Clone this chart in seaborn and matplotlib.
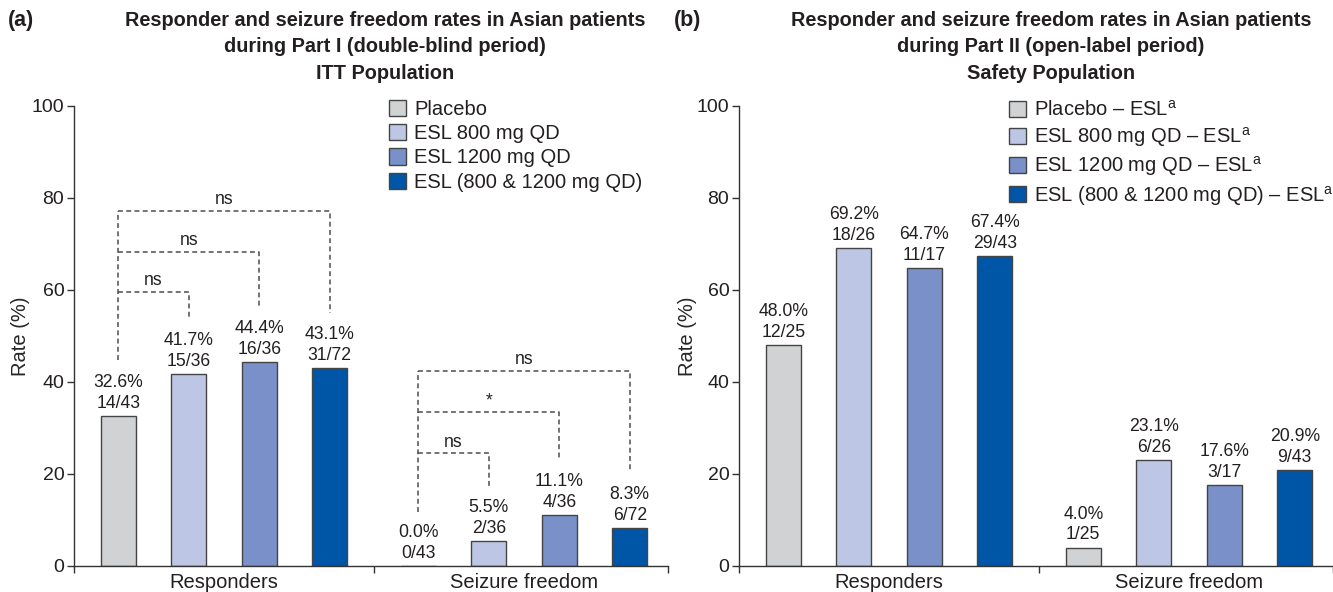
import matplotlib
matplotlib.use("Agg")
import matplotlib.pyplot as plt
from matplotlib.patches import Patch
import numpy as np
import pandas as pd
import seaborn as sns

# categories and treatment groups
categories = ["Responders", "Seizure freedom"]
groups_a = ["Placebo", "ESL 800 mg QD", "ESL 1200 mg QD", "ESL (800 & 1200 mg QD)"]
groups_b = ["Placebo \u2013 ESL$^{\\mathrm{a}}$", "ESL 800 mg QD \u2013 ESL$^{\\mathrm{a}}$",
            "ESL 1200 mg QD \u2013 ESL$^{\\mathrm{a}}$", "ESL (800 & 1200 mg QD) \u2013 ESL$^{\\mathrm{a}}$"]
colors = ["#d0d2d3", "#bdc6e5", "#7990c8", "#0056a6"]

# (a) Part I, ITT population
resp_a = [32.6, 41.7, 44.4, 43.1]
resp_a_n = ["14/43", "15/36", "16/36", "31/72"]
sf_a = [0.0, 5.5, 11.1, 8.3]
sf_a_n = ["0/43", "2/36", "4/36", "6/72"]

# (b) Part II, safety population
resp_b = [48.0, 69.2, 64.7, 67.4]
resp_b_n = ["12/25", "18/26", "11/17", "29/43"]
sf_b = [4.0, 23.1, 17.6, 20.9]
sf_b_n = ["1/25", "6/26", "3/17", "9/43"]

# significance brackets in (a): category, compared group, bracket level, end heights, label
brk_cat = [0, 0, 0, 1, 1, 1]
brk_grp = [1, 2, 3, 1, 2, 3]
brk_level = [59.6, 68.3, 77.2, 24.5, 33.5, 42.4]
brk_end = [53.6, 56.0, 55.0, 17.2, 23.0, 20.4]
brk_label = ["ns", "ns", "ns", "ns", "*", "ns"]
brk_start = [44.8, 11.7]  # bottom of the placebo leg per category

titles = ["Responder and seizure freedom rates in Asian patients\nduring Part I (double-blind period)\nITT Population",
          "Responder and seizure freedom rates in Asian patients\nduring Part II (open-label period)\nSafety Population"]

sns.set_style("ticks")
plt.rcParams['font.family'] = ['Liberation Sans', 'DejaVu Sans']
plt.rcParams['mathtext.fontset'] = 'custom'
plt.rcParams['mathtext.rm'] = 'Liberation Sans'
plt.rcParams['mathtext.it'] = 'Liberation Sans:italic'
plt.rcParams['text.color'] = '#231f20'
plt.rcParams['axes.edgecolor'] = '#333333'
plt.rcParams['xtick.color'] = '#333333'
plt.rcParams['ytick.color'] = '#333333'
plt.rcParams['xtick.labelcolor'] = '#231f20'
plt.rcParams['ytick.labelcolor'] = '#231f20'

W, H = 1333, 592
fig = plt.figure(figsize=(W / 100, H / 100), dpi=100)
ax_a = fig.add_axes([74 / W, 1 - 566 / H, 594 / W, 460 / H])
ax_b = fig.add_axes([739 / W, 1 - 566 / H, 594 / W, 460 / H])

panels = [
    (ax_a, groups_a, resp_a, resp_a_n, sf_a, sf_a_n),
    (ax_b, groups_b, resp_b, resp_b_n, sf_b, sf_b_n),
]

for ax, groups, resp, resp_n, sf, sf_n in panels:
    df = pd.DataFrame({
        "category": [categories[0]] * 4 + [categories[1]] * 4,
        "group": groups + groups,
        "rate": resp + sf,
        "n": resp_n + sf_n,
    })
    sns.barplot(data=df, x="category", y="rate", hue="group", order=categories,
                hue_order=groups, palette=colors, saturation=1, width=0.94, gap=0.5,
                edgecolor="#444444", linewidth=1.0, errorbar=None, legend=False, ax=ax)
    # value labels
    for h, cont in enumerate(ax.containers):
        for c, bar in enumerate(cont):
            row = df[(df.group == groups[h]) & (df.category == categories[c])].iloc[0]
            ax.annotate(f"{row.rate:.1f}%\n{row.n}",
                        xy=(bar.get_x() + bar.get_width() / 2, bar.get_height()),
                        xytext=(0, 3), textcoords="offset points", ha="center", va="bottom",
                        fontsize=12.7, linespacing=1.3)
    ax.set_xlim(-0.5, 1.48)
    ax.set_ylim(0, 100)
    ax.set_yticks(np.arange(0, 101, 20))
    ax.set_xlabel("")
    ax.set_ylabel("Rate (%)", fontsize=14.5)
    ax.set_xticks([-0.5, 0.5, 1.48], minor=True)
    ax.tick_params(axis="x", which="major", length=0, pad=5, labelsize=14.5)
    ax.tick_params(axis="x", which="minor", length=5, width=1)
    ax.tick_params(axis="y", length=5, width=1, pad=2, labelsize=14)
    sns.despine(ax=ax)
    for s in ["left", "bottom"]:
        ax.spines[s].set_linewidth(1)
    handles = [Patch(facecolor=col, edgecolor="#444444", linewidth=1, label=g)
               for col, g in zip(colors, groups)]
    ax.legend(handles=handles, frameon=False, fontsize=14.5, loc="upper left",
              borderpad=0, borderaxespad=0, handlelength=0.85, handleheight=0.85,
              handletextpad=0.4, labelspacing=0.26)

ax_a.get_legend().set_bbox_to_anchor((389 / W, 1 - 100 / H), transform=fig.transFigure)
ax_b.get_legend().set_bbox_to_anchor((1009 / W, 1 - 100 / H), transform=fig.transFigure)
ax_a.yaxis.set_label_coords(-0.074, 0.5)
ax_b.yaxis.set_label_coords(-0.071, 0.5)

# significance brackets in (a)
dash = dict(color="#4d4d4d", linewidth=1.1, linestyle=(0, (3.2, 2.2)))
for c in range(2):
    left = ax_a.containers[0][c]
    x0 = left.get_x() + left.get_width() / 2
    top = max(lv for lv, cc in zip(brk_level, brk_cat) if cc == c)
    ax_a.plot([x0, x0], [brk_start[c], top], **dash)
for c, g, lv, end, lab in zip(brk_cat, brk_grp, brk_level, brk_end, brk_label):
    x0 = ax_a.containers[0][c].get_x() + ax_a.containers[0][c].get_width() / 2
    bar = ax_a.containers[g][c]
    x1 = bar.get_x() + bar.get_width() / 2
    ax_a.plot([x0, x1, x1], [lv, lv, end], **dash)
    ax_a.annotate(lab, xy=((x0 + x1) / 2, lv), xytext=(0, 2), textcoords="offset points",
                  ha="center", va="bottom", fontsize=12.7)

# titles
fig.text(8 / W, 1 - 10 / H, "(a)", fontsize=15.5, fontweight="bold", ha="left", va="top")
fig.text(674 / W, 1 - 10 / H, "(b)", fontsize=15.5, fontweight="bold", ha="left", va="top")
fig.text(385 / W, 1 - 11 / H, titles[0], fontsize=14.3, fontweight="bold", ha="center",
         va="top", linespacing=1.5)
fig.text(1051 / W, 1 - 11 / H, titles[1], fontsize=14.3, fontweight="bold", ha="center",
         va="top", linespacing=1.5)

fig.savefig("out.png", dpi=100)
